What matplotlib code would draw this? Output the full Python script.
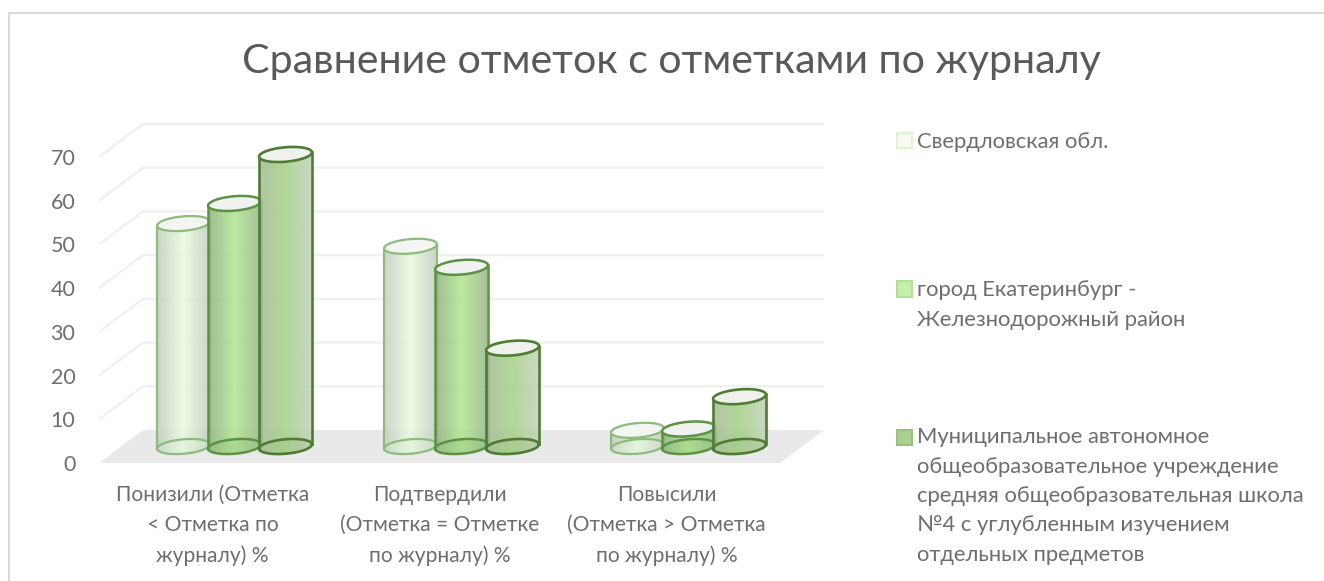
import numpy as np
import matplotlib
matplotlib.use("Agg")
import matplotlib.pyplot as plt
from matplotlib.patches import Polygon, Rectangle
from matplotlib.transforms import offset_copy
from matplotlib.colors import to_rgb

title = "Сравнение отметок с отметками по журналу"
categories = ["Понизили (Отметка\n< Отметка по\nжурналу) %",
              "Подтвердили\n(Отметка = Отметке\nпо журналу) %",
              "Повысили\n(Отметка > Отметка\nпо журналу) %"]
series_names = ["Свердловская обл.",
                "город Екатеринбург -\nЖелезнодорожный район",
                "Муниципальное автономное\nобщеобразовательное учреждение\nсредняя общеобразовательная школа\n№4 с углубленным изучением\nотдельных предметов"]
sverdlovsk = [51, 45.8, 3.7]
ekb = [55.6, 41, 4]
school = [66.8, 22.5, 11.4]
yticks = [0, 10, 20, 30, 40, 50, 60, 70]

W, H = 1324, 581
plt.rcParams['font.family'] = ['Lato', 'Open Sans', 'DejaVu Sans']
fig = plt.figure(figsize=(W/100, H/100), dpi=100)
TXT = '#595959'
TXT2 = '#6e6e6e'

def fy(p):
    return 1 - p/H

fig.add_artist(plt.Line2D([9/W, 9/W], [0, fy(12.5)], color='#d9d9d9', lw=1.5))
fig.add_artist(plt.Line2D([9/W, 1], [fy(12.5), fy(12.5)], color='#d9d9d9', lw=1.5))

ax = fig.add_axes([99/W, fy(463), 681/W, 306/H])
ax.set_xlim(-0.5, 2.5)
ax.set_ylim(0, 70)
for s in ax.spines.values():
    s.set_visible(False)
ax.patch.set_visible(False)
PX = 681/3.0   # px per category
PY = 306/70.0  # px per unit

DX, DY = 44, 33
mid = offset_copy(ax.transData, fig=fig, x=DX/2, y=DY/2, units='dots')

# floor
ax.add_patch(Polygon([(-0.5, 0), (2.5, 0), (2.5+DX/PX, DY/PY), (-0.5+DX/PX, DY/PY)],
                     closed=True, fc='#e9e9e9', ec='none', clip_on=False, zorder=1))
# grid
for v in yticks[1:]:
    ax.plot([-0.5, -0.5+DX/PX, 2.5+DX/PX], [v, v+DY/PY, v+DY/PY], color='#f1f1f1', lw=1.8,
            clip_on=False, zorder=1, solid_capstyle='butt')

styles = [
    dict(side=['#c3cdbd', '#e9fbe1', '#c3cdbd'], edge='#8cbb7c', lw=1.6, top='#f2f5f1', bot='#dbeed2',
         mfc='#f8fbf2', mec='#dcf5cf'),
    dict(side=['#8fb07f', '#b1e58f', '#98b58a'], edge='#5b9343', lw=1.8, top='#eff2ee', bot='#8fc574',
         mfc='#c6efab', mec='#b4e096'),
    dict(side=['#a4bb97', '#a3d083', '#c2d0b8'], edge='#4e7c33', lw=1.9, top='#eef1ec', bot='#9fc08a',
         mfc='#a9d08f', mec='#98c07f'),
]
WIDTH = 53/PX
A, B, TILT = 26.5, 7.2, np.radians(5)
t = np.linspace(0, 2*np.pi, 121)

def ellipse(xc, v, tt=t):
    px = A*np.cos(tt); py = B*np.sin(tt)
    rx = px*np.cos(TILT) - py*np.sin(TILT)
    ry = px*np.sin(TILT) + py*np.cos(TILT)
    return xc + rx/PX, v + ry/PY

GAP = 51/PX
all_series = [sverdlovsk, ekb, school]
for i, (vals, st) in enumerate(zip(all_series, styles)):
    cols = np.array([to_rgb(c) for c in st['side']])
    u = np.linspace(0, 1, 128)
    g = np.stack([np.interp(u, [0, .5, 1], cols[:, k]) for k in range(3)], axis=-1)
    rgba = np.dstack([g[None, :, :], np.full((1, 128), 0.85)])
    for j, v in enumerate(vals):
        xc = j + (i-1)*GAP
        tl = np.linspace(np.pi, 2*np.pi, 60)
        bx, by = ellipse(xc, 0, tl)          # lower arc of base
        tx, ty = ellipse(xc, v, tl[::-1])    # lower arc of top, right to left
        poly = Polygon(np.column_stack([np.r_[bx, tx], np.r_[by, ty]]), closed=True,
                       transform=mid, fc='none', ec='none')
        ax.add_patch(poly)
        poly.set_clip_on(False)
        im = ax.imshow(rgba, extent=(xc-WIDTH/2, xc+WIDTH/2, -3, v+3), aspect='auto',
                       transform=mid, zorder=3+i, interpolation='bilinear')
        im.set_clip_path(poly)
        ex, ey = ellipse(xc, 0)
        ax.fill(ex, ey, fc=st['bot'], alpha=0.3, ec='none', transform=mid, clip_on=False, zorder=3+i)
        ax.plot(ex, ey, color=st['edge'], lw=st['lw'], transform=mid, clip_on=False, zorder=3.2+i)
        ex, ey = ellipse(xc, v)
        ax.fill(ex, ey, fc=st['top'], ec=st['edge'], lw=st['lw'], transform=mid, clip_on=False, zorder=3.3+i)
        ax.plot([bx[0], tx[-1]], [by[0], ty[-1]], color=st['edge'], lw=st['lw'], transform=mid,
                clip_on=False, zorder=3.2+i)
        ax.plot([bx[-1], tx[0]], [by[-1], ty[0]], color=st['edge'], lw=st['lw'], transform=mid,
                clip_on=False, zorder=3.2+i)

ax.set_xlim(-0.5, 2.5)
ax.set_ylim(0, 70)
ax.set_aspect('auto')
ax.set_yticks(yticks)
ax.tick_params(axis='y', length=0, pad=17, labelsize=15.5, labelcolor=TXT2)
ax.set_xticks(range(3))
ax.set_xticklabels(categories, linespacing=1.62)
ax.tick_params(axis='x', length=0, pad=16, labelsize=15.1, labelcolor=TXT2)

fig.text(671/W, fy(62), title, ha='center', va='center', fontsize=29.6, color=TXT)

legend_y = [142, 305, 496]
marker_y = [141, 289, 437]
for name, ly, my, st in zip(series_names, legend_y, marker_y, styles):
    fig.text(917/W, fy(ly), name, ha='left', va='center', fontsize=15.8, color=TXT2, linespacing=1.58)
    fig.add_artist(Rectangle((897/W, fy(my+7.5)), 15/W, 15/H, transform=fig.transFigure,
                             fc=st['mfc'], ec=st['mec'], lw=1.5))

fig.savefig('out.png', dpi=100)
